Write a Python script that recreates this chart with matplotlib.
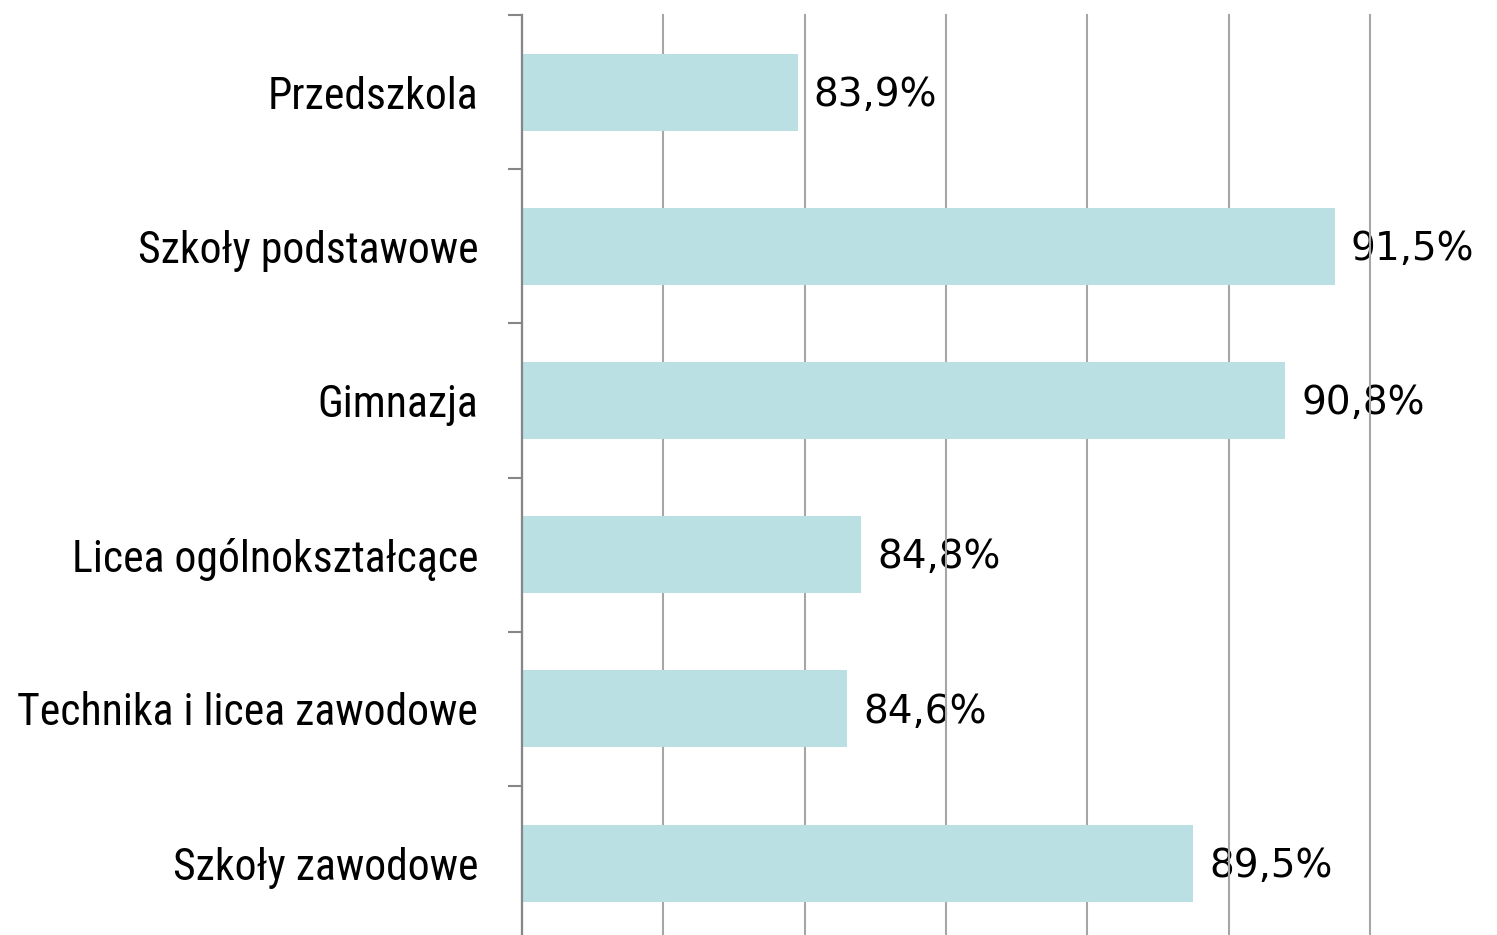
import matplotlib.pyplot as plt
import numpy as np
from matplotlib import font_manager

categories = ["Przedszkola", "Szkoły podstawowe", "Gimnazja",
              "Licea ogólnokształcące", "Technika i licea zawodowe",
              "Szkoły zawodowe"]
values = [83.9, 91.5, 90.8, 84.8, 84.6, 89.5]
value_labels = ["83,9%", "91,5%", "90,8%", "84,8%", "84,6%", "89,5%"]

names = {f.name for f in font_manager.fontManager.ttflist}
label_font = "Roboto"
for cand in ["Liberation Sans Narrow", "Roboto Condensed", "DejaVu Sans Condensed"]:
    if cand in names:
        label_font = cand
        break

fig = plt.figure(figsize=(14.97, 9.35), dpi=100)
ax = fig.add_axes([522 / 1497, -5.2 / 935, (1370 - 522) / 1497, 925.2 / 935])

# pick label size so the longest label is ~461 px wide, like the original
renderer = fig.canvas.get_renderer()
probe = fig.text(0, 0, categories[4], fontsize=34, family=label_font)
w = probe.get_window_extent(renderer).width
probe.remove()
label_size = min(35, 34 * 462 / w)

y = np.arange(len(categories))
ax.barh(y, np.array(values) - 80, left=80, height=0.5, color="#BBE0E3", zorder=2)

ax.set_xlim(80, 92)
ax.set_ylim(len(categories) - 0.5, -0.5)
ax.set_xticks(np.arange(80, 93, 2))
ax.set_xticklabels([])
ax.tick_params(axis="x", length=0)
ax.grid(axis="x", color="#A6A6A6", linewidth=1.5, zorder=1)
for gl in ax.get_xgridlines():
    gl.set_clip_on(False)

# ticks between categories, labels centred on bars
ax.set_yticks(np.arange(-0.5, len(categories), 1))
ax.set_yticklabels([])
ax.tick_params(axis="y", which="major", length=10, width=1.5, color="#868686")
ax.set_yticks(y, minor=True)
ax.set_yticklabels(categories, minor=True, fontsize=label_size, family=label_font)
ax.tick_params(axis="y", which="minor", length=0, pad=31.5)

for s in ["top", "right", "bottom"]:
    ax.spines[s].set_visible(False)
ax.spines["left"].set_color("#868686")
ax.spines["left"].set_linewidth(1.6)
ax.spines["left"].set_zorder(3)

for yi, v, lab in zip(y, values, value_labels):
    ax.annotate(lab, (v, yi), xytext=(11.5, -2), textcoords="offset points",
                va="center", ha="left", fontsize=28, family="DejaVu Sans",
                zorder=0, annotation_clip=False)

fig.savefig("out.png", dpi=100)
